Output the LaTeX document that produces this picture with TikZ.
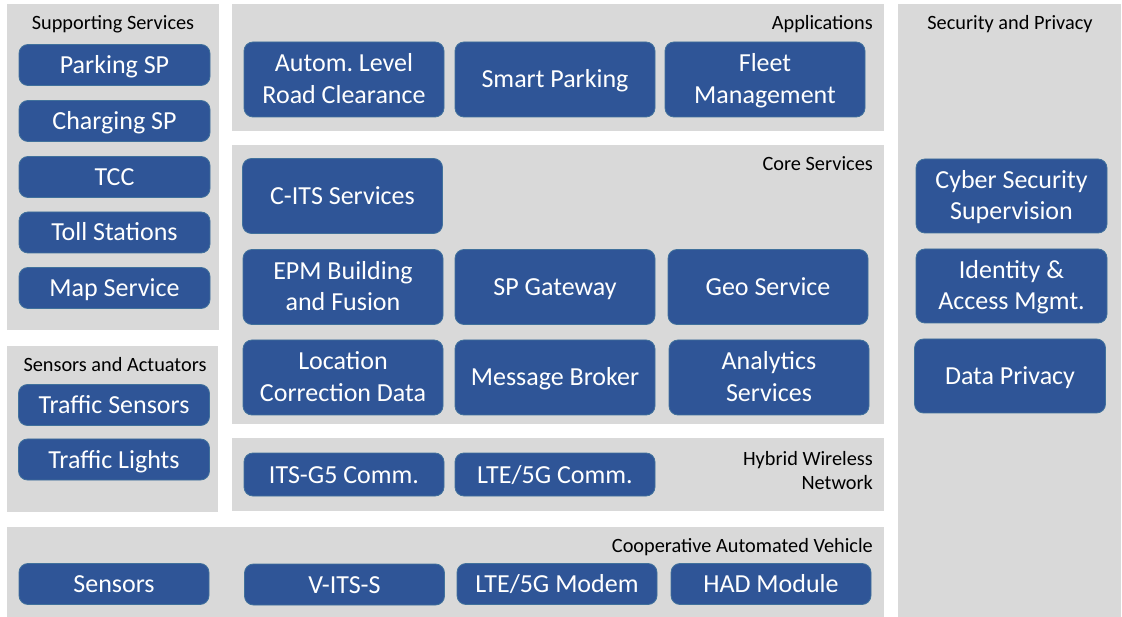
\documentclass[tikz,border=0pt]{standalone}
\usepackage{fontspec}
\setmainfont{Carlito}
\frenchspacing
\definecolor{boxblue}{HTML}{2F5597}
\definecolor{boxline}{HTML}{41719C}
\definecolor{panelgray}{HTML}{D9D9D9}
\begin{document}
\begin{tikzpicture}[x = 1pt, y = -1pt,
    panel/.style = {fill=panelgray},
    svc/.style = {rectangle, rounded corners=9pt, fill=boxblue, draw=boxline,
                  line width=0.8pt, text=white, align=center, inner sep=0pt,
                  font=\fontsize{26}{31.5}\selectfont,
                  text height=24.5pt, text depth=7.5pt},
    twoline/.style = {text height=55.5pt},
    wide/.style = {svc, minimum width=200pt, minimum height=75pt},
    slim/.style = {svc, minimum width=191pt, minimum height=41pt},
    title/.style = {inner sep=0pt, align=right, font=\fontsize{20.3}{24}\selectfont}]
          \useasboundingbox[fill=white] (0,0) rectangle (1122,617);
          % panels
          \fill[panel] (7,4) rectangle (219,330);
          \fill[panel] (7,346) rectangle (218,512);
          \fill[panel] (232,4) rectangle (884,131);
          \fill[panel] (232,145) rectangle (884,424);
          \fill[panel] (232,438) rectangle (884,511);
          \fill[panel] (7,527) rectangle (884,617);
          \fill[panel] (898,4) rectangle (1121,617);
          % panel titles
          \node[title] (supptitle) at (113,24) {Supporting Services};
          \node[title] (senstitle) at (115,365) {Sensors and Actuators};
          \node[title, anchor=east] (appstitle) at (873,24) {Applications};
          \node[title, anchor=east] (coretitle) at (873,164) {Core Services};
          \node[title, anchor=east] (hybtitle) at (873,471) {Hybrid Wireless\\Network};
          \node[title, anchor=east] (cavtitle) at (873,547) {Cooperative Automated Vehicle};
          \node[title] (sectitle) at (1010,24) {Security and Privacy};
          % supporting services
          \node[slim] (parking) at (114.5,65) {Parking SP};
          \node[slim] (charging) at (114.5,121) {Charging SP};
          \node[slim] (tcc) at (114.5,177) {TCC};
          \node[slim] (toll) at (114.5,232.5) {Toll Stations};
          \node[slim] (map) at (114.5,288) {Map Service};
          % sensors and actuators
          \node[slim] (trafsens) at (114,405) {Traffic Sensors};
          \node[slim] (traflights) at (114,459.5) {Traffic Lights};
          % applications
          \node[wide, twoline] (autom) at (344,79.5) {Autom. Level\\Road Clearance};
          \node[wide] (smartpark) at (555,79.5) {Smart Parking};
          \node[wide, twoline] (fleet) at (765,79.5) {Fleet\\Management};
          % core services
          \node[wide] (cits) at (342.5,196) {C-ITS Services};
          \node[wide, twoline] (epm) at (343,287) {EPM Building\\and Fusion};
          \node[wide] (spgw) at (555,287) {SP Gateway};
          \node[wide] (geo) at (768,287) {Geo Service};
          \node[wide, twoline] (loccorr) at (343,377.5) {Location\\Correction Data};
          \node[wide] (broker) at (555,377.5) {Message Broker};
          \node[wide, twoline] (analytics) at (769,377.5) {Analytics\\Services};
          % hybrid wireless network
          \node[wide, minimum height=43pt] (itsg5) at (344,474.5) {ITS-G5 Comm.};
          \node[wide, minimum height=43pt] (ltecomm) at (555,474.5) {LTE/5G Comm.};
          % cooperative automated vehicle
          \node[slim, minimum width=190pt] (sensors) at (114,584) {Sensors};
          \node[wide, minimum height=41pt] (vits) at (344.5,584.5) {V-ITS-S};
          \node[wide, minimum height=41pt] (modem) at (557,584) {LTE/5G Modem};
          \node[wide, minimum height=41pt] (had) at (771,584) {HAD Module};
          % security and privacy
          \node[slim, twoline, minimum height=74pt] (cyber) at (1011.5,196) {Cyber Security\\Supervision};
          \node[slim, twoline, minimum height=74pt] (idam) at (1011.5,286) {Identity \&\\Access Mgmt.};
          \node[slim, minimum height=74pt] (privacy) at (1010,376) {Data Privacy};
        \end{tikzpicture}
\end{document}
